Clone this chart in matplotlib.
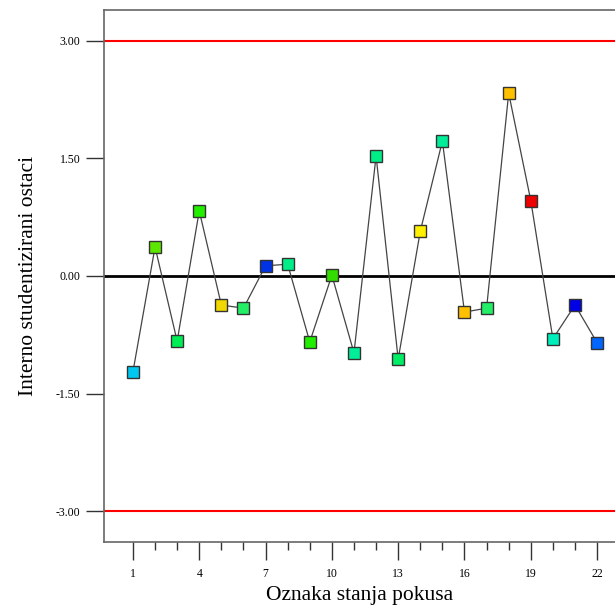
import matplotlib.pyplot as plt
from matplotlib.ticker import FixedLocator

# run number and internally studentized residuals
runs = list(range(1, 23))
residuals = [-1.22, 0.37, -0.83, 0.83, -0.37, -0.41, 0.13, 0.15, -0.84, 0.01, -0.98,
             1.53, -1.06, 0.57, 1.72, -0.46, -0.41, 2.33, 0.96, -0.80, -0.37, -0.85]
point_colors = ['#00C8F0', '#5CE600', '#00EE55', '#22EE00', '#F0D800', '#22EE66',
                '#0033E6', '#00EE88', '#22EE00', '#33DD00', '#00EE99', '#00EE88',
                '#00EE66', '#FFF000', '#00EE99', '#FFC000', '#22EE66', '#FFC000',
                '#EE0000', '#00EEBB', '#0000E6', '#0066FF']
limit = 3.0

plt.rcParams['font.family'] = 'Liberation Serif'

fig = plt.figure(figsize=(6.15, 6.06), dpi=100)
ax = fig.add_axes([104 / 615, 64 / 606, 511 / 615, 532 / 606])

ax.axhline(limit, color='#FF0000', lw=1.5, zorder=1)
ax.axhline(-limit, color='#FF0000', lw=1.5, zorder=1)
ax.axhline(0, color='black', lw=2, zorder=1)

ax.plot(runs, residuals, color='#444444', lw=0.9, zorder=2)
for x, y, c in zip(runs, residuals, point_colors):
    ax.plot(x, y, marker='s', ms=8.5, mfc=c, mec='#333333', mew=1.0, zorder=3)

ax.set_xlim(-0.31, 22.81)
ax.set_ylim(-3.39, 3.39)

ax.set_xticks(range(1, 23, 3))
ax.xaxis.set_minor_locator(FixedLocator(runs))
ax.set_yticks([-3, -1.5, 0, 1.5, 3])
ax.set_yticklabels(['-3.00', '-1.50', '0.00', '1.50', '3.00'])

ax.tick_params(axis='both', which='major', length=13, width=1, color='#333333',
               labelsize=8.5, direction='out')
ax.tick_params(axis='x', which='minor', length=6, width=1, color='#333333')
ax.tick_params(axis='x', pad=6)
ax.tick_params(axis='y', pad=4)

for side in ['left', 'bottom', 'top']:
    ax.spines[side].set_color('#666666')
    ax.spines[side].set_linewidth(1.2)
ax.spines['right'].set_visible(False)

ax.set_xlabel('Oznaka stanja pokusa', fontsize=15.5, labelpad=4)
ax.set_ylabel('Interno studentizirani ostaci', fontsize=15.5, labelpad=13)

fig.savefig('out.png', dpi=100)
